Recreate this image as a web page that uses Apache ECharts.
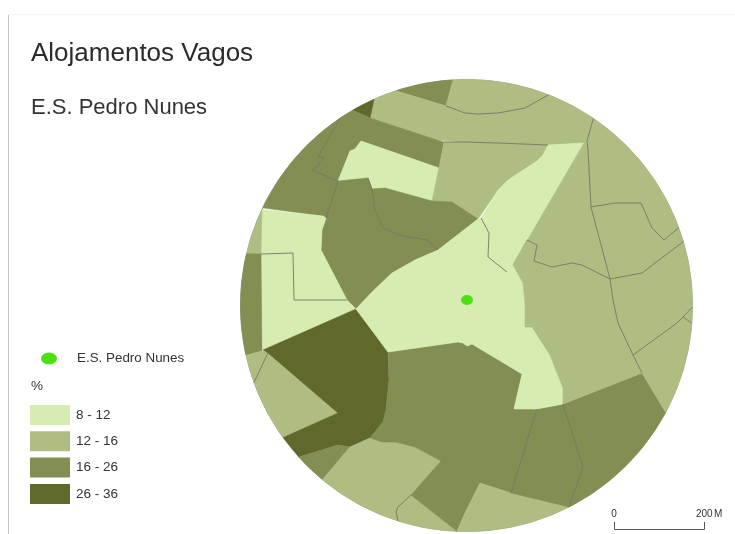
<!DOCTYPE html>
<html>
<head>
<meta charset="utf-8">
<title>Alojamentos Vagos</title>
<style>
  html, body { margin: 0; padding: 0; background: #fff; }
  #chart { width: 735px; height: 534px; }
</style>
</head>
<body>
<div id="chart"></div>
<script src="https://cdn.jsdelivr.net/npm/echarts@6/dist/echarts.min.js"></script>
<script>
// texts
const mainTitle = 'Alojamentos Vagos'
const subTitle = 'E.S. Pedro Nunes'
const schoolName = 'E.S. Pedro Nunes'

// classes of the legend
const classLabels = ['8 - 12', '12 - 16', '16 - 26', '26 - 36']
const classMins = [8, 12, 16, 26]
const classMaxs = [12, 16, 26, 36]
const classColors = ['#d7ecb0', '#afbc82', '#828e52', '#60682c']

// school location, in map units
const schoolPoint = [467, 300]

// study area, a circle. ARC = follow its edge up to the next vertex
const ARC = 'arc'
const areaCenter = [466.5, 305.5]
const areaRadius = 226

// percentage read per statistical section (only the class can be read)
const regionValues = [
  21, 14, 14, 31, 21, 21, 10, 14, 21, 21,
  10, 14, 10, 21, 14, 14, 31, 21, 14, 14,
  21, 14, 21, 21, 10, 10, 14, 14, 14, 14,
  14, 14, 14
]

// outlines of the sections, in map units, same order as regionValues
const regionRings = [
  [[396, 91], ARC, [453, 80], [446, 106]],
  [[453, 80], ARC, [548, 96], [525, 108], [498, 113], [478, 114], [465, 113], [446, 106]],
  [[374, 99], ARC, [396, 91], [446, 106], [465, 113], [478, 114], [498, 113], [525, 108], [548, 96], ARC, [593, 119], [587, 141], [584, 143], [548, 145], [498, 143], [465, 142], [437, 140], [370, 118]],
  [[353, 111], ARC, [374, 99], [370, 118]],
  [[340, 118], ARC, [353, 111], [370, 118], [437, 140], [444, 142], [439, 168], [361, 141], [355, 149], [350, 151], [338, 181], [312, 170], [320, 164], [318, 163], [324, 158], [318, 157]],
  [[263, 208], ARC, [340, 118], [318, 157], [324, 158], [318, 163], [320, 164], [312, 170], [338, 181], [326, 218], [323, 216]],
  [[361, 141], [439, 168], [432, 201], [385, 188], [372, 189], [368, 178], [338, 181], [350, 151], [355, 149]],
  [[444, 142], [465, 142], [498, 143], [548, 145], [543, 155], [537, 161], [508, 180], [498, 190], [478, 219], [475, 217], [452, 202], [432, 201], [439, 168]],
  [[372, 189], [385, 188], [432, 201], [452, 202], [475, 217], [478, 219], [438, 250], [428, 240], [402, 236], [383, 228], [375, 210]],
  [[338, 181], [368, 178], [372, 189], [375, 210], [383, 228], [402, 236], [428, 240], [438, 250], [415, 260], [392, 273], [372, 292], [356, 309], [347, 300], [321, 250], [322, 230], [326, 218]],
  [[261, 209], [323, 216], [326, 218], [322, 230], [321, 250], [347, 300], [294, 300], [293, 253], [261, 254]],
  [[261, 209], ARC, [248, 254], [261, 254]],
  [[261, 254], [293, 253], [294, 300], [347, 300], [356, 309], [263, 350], [262, 351]],
  [[248, 254], [261, 254], [262, 351], [247, 355], ARC],
  [[247, 355], [262, 351], [268, 353], [255, 382], ARC],
  [[268, 353], [338, 413], [284, 437], ARC, [255, 382]],
  [[263, 350], [356, 309], [388, 352], [389, 380], [386, 410], [383, 422], [370, 438], [350, 447], [338, 445], [299, 457], [284, 437], [338, 413], [268, 353]],
  [[299, 457], [338, 445], [350, 447], [323, 479], ARC],
  [[323, 479], [350, 447], [370, 438], [382, 442], [395, 442], [415, 447], [441, 461], [411, 495], [398, 507], [396, 512], [398, 521], ARC],
  [[411, 495], [457, 531], ARC, [398, 521], [396, 512], [398, 507]],
  [[388, 352], [458, 342], [463, 343], [467, 346], [472, 344], [522, 374], [514, 409], [537, 409], [511, 493], [480, 483], [465, 513], [457, 531], [411, 495], [441, 461], [415, 447], [395, 442], [382, 442], [370, 438], [383, 422], [386, 410], [389, 380]],
  [[480, 483], [511, 493], [568, 505], ARC, [457, 531], [465, 513]],
  [[537, 409], [563, 404], [583, 467], [568, 505], [511, 493]],
  [[563, 404], [642, 373], [665, 412], ARC, [568, 505], [583, 467]],
  [[438, 250], [478, 219], [481, 218], [489, 233], [488, 257], [507, 272], [513, 265], [523, 283], [525, 303], [525, 327], [532, 327], [550, 355], [563, 388], [563, 404], [537, 409], [514, 409], [522, 374], [472, 344], [467, 346], [463, 343], [458, 342], [388, 352], [356, 309], [372, 292], [392, 273], [415, 260]],
  [[481, 218], [498, 190], [508, 180], [537, 161], [543, 155], [548, 145], [584, 143], [513, 265], [507, 272], [488, 257], [489, 233]],
  [[587, 141], [588, 150], [591, 207], [610, 279], [582, 265], [572, 263], [552, 267], [534, 261], [537, 245], [527, 240], [513, 265], [584, 143]],
  [[513, 265], [527, 240], [537, 245], [534, 261], [552, 267], [572, 263], [582, 265], [610, 279], [613, 300], [618, 323], [633, 355], [642, 373], [563, 404], [563, 388], [550, 355], [532, 327], [525, 327], [525, 303], [523, 283]],
  [[593, 119], ARC, [678, 228], [664, 240], [652, 228], [641, 203], [615, 203], [591, 207], [588, 150], [587, 141]],
  [[591, 207], [615, 203], [641, 203], [652, 228], [664, 240], [678, 228], [682, 242], [642, 273], [610, 279]],
  [[682, 242], ARC, [692, 307], [683, 317], [677, 323], [633, 355], [618, 323], [613, 300], [610, 279], [642, 273]],
  [[692, 307], ARC, [691, 323], [683, 317]],
  [[633, 355], [677, 323], [683, 317], [691, 323], ARC, [665, 412], [642, 373]]
]

// boundaries between sections of the same class, they are the only ones with a visible line
const innerBoundaries = [
  [[340, 118], [318, 157], [324, 158], [318, 163], [320, 164], [312, 170], [338, 181], [326, 218]],
  [[368, 178], [372, 189], [375, 210], [383, 228], [402, 236], [428, 240], [438, 250]],
  [[537, 409], [511, 493]],
  [[563, 404], [583, 467], [568, 505]],
  [[446, 106], [465, 113], [478, 114], [498, 113], [525, 108], [548, 96]],
  [[444, 142], [465, 142], [498, 143], [548, 145]],
  [[593, 119], [587, 141], [588, 150], [591, 207], [610, 279], [613, 300], [618, 323], [633, 355], [642, 373]],
  [[591, 207], [615, 203], [641, 203], [652, 228], [664, 240], [678, 228]],
  [[682, 242], [642, 273], [610, 279]],
  [[527, 240], [537, 245], [534, 261], [552, 267], [572, 263], [582, 265], [610, 279]],
  [[633, 355], [677, 323], [683, 317], [691, 323]],
  [[683, 317], [692, 307]],
  [[268, 353], [255, 382]],
  [[411, 495], [398, 507], [396, 512], [398, 521]],
  [[261, 254], [293, 253], [294, 300], [347, 300]],
  [[481, 218], [489, 233], [488, 257], [507, 272]]
]

// snaps a vertex lying on the edge of the study area
const snapToEdge = (p) => {
  const dx = p[0] - areaCenter[0]
  const dy = p[1] - areaCenter[1]
  const d = Math.sqrt(dx * dx + dy * dy)
  if (Math.abs(d - areaRadius) > 4) return p
  return [areaCenter[0] + dx / d * areaRadius, areaCenter[1] + dy / d * areaRadius]
}

const edgeBetween = (a, b) => {
  const a0 = Math.atan2(a[1] - areaCenter[1], a[0] - areaCenter[0])
  const a1 = Math.atan2(b[1] - areaCenter[1], b[0] - areaCenter[0])
  let delta = a1 - a0
  while (delta > Math.PI) delta -= 2 * Math.PI
  while (delta < -Math.PI) delta += 2 * Math.PI
  const steps = Math.ceil(Math.abs(delta) / 0.02)
  const out = []
  for (let i = 1; i < steps; i++) {
    const t = a0 + delta * i / steps
    out.push([areaCenter[0] + Math.cos(t) * areaRadius, areaCenter[1] + Math.sin(t) * areaRadius])
  }
  return out
}

const buildRing = (ring) => {
  const out = []
  ring.forEach((v, i) => {
    if (v === ARC) {
      const next = ring[(i + 1) % ring.length]
      out.push(...edgeBetween(snapToEdge(ring[i - 1]), snapToEdge(next)))
    } else {
      out.push(snapToEdge(v))
    }
  })
  out.push(out[0])
  return out
}

const sectionName = (i) => 'S' + (i + 1)

const classColorOf = (v) => classColors[classMins.findIndex((m, i) => v >= m && v <= classMaxs[i])]

echarts.registerMap('seccoes', {
  type: 'FeatureCollection',
  features: regionRings.map((ring, i) => ({
    type: 'Feature',
    properties: {name: sectionName(i)},
    geometry: {type: 'Polygon', coordinates: [buildRing(ring)]}
  }))
})

const chart = echarts.init(document.getElementById('chart'))

chart.setOption({
  animation: false,
  backgroundColor: '#fff',
  title: [
    {text: mainTitle, left: 26, top: 36, textStyle: {fontFamily: 'Liberation Sans', fontSize: 26, fontWeight: 'normal', color: '#2b2b2b'}},
    {text: subTitle, left: 26, top: 92, textStyle: {fontFamily: 'Liberation Sans', fontSize: 22, fontWeight: 'normal', color: '#333'}},
    {text: '%', left: 26, top: 374, textStyle: {fontFamily: 'Liberation Sans', fontSize: 13.5, fontWeight: 'normal', color: '#333'}}
  ],
  legend: {
    left: 41,
    top: 352,
    padding: 0,
    data: [schoolName],
    icon: 'path://M0,6a8,6 0 1,0 16,0a8,6 0 1,0 -16,0',
    itemWidth: 16,
    itemHeight: 13,
    itemGap: 0,
    selectedMode: false,
    textStyle: {fontFamily: 'Liberation Sans', fontSize: 13.4, color: '#333', padding: [2, 0, 0, 15]}
  },
  visualMap: {
    type: 'piecewise',
    seriesIndex: 0,
    left: 30,
    top: 405,
    padding: 0,
    inverse: true,
    orient: 'vertical',
    itemWidth: 40,
    itemHeight: 20,
    itemGap: 6.3,
    itemSymbol: 'rect',
    textGap: 6,
    hoverLink: false,
    selectedMode: false,
    textStyle: {fontFamily: 'Liberation Sans', fontSize: 13.5, color: '#333'},
    pieces: classLabels.map((label, i) => ({
      min: classMins[i],
      max: classMaxs[i],
      label: label,
      color: classColors[i]
    }))
  },
  geo: {
    map: 'seccoes',
    projection: {project: (p) => p, unproject: (p) => p},
    boundingCoords: [[areaCenter[0] - areaRadius, areaCenter[1] - areaRadius], [areaCenter[0] + areaRadius, areaCenter[1] + areaRadius]],
    left: areaCenter[0] - areaRadius,
    top: areaCenter[1] - areaRadius,
    width: areaRadius * 2,
    height: areaRadius * 2,
    silent: true,
    itemStyle: {areaColor: '#afbc82', borderWidth: 0.6},
    // section outlines take the colour of their class so no seam shows
    regions: regionValues.map((v, i) => ({name: sectionName(i), itemStyle: {borderColor: classColorOf(v)}})),
    label: {show: false}
  },
  series: [
    {
      type: 'map',
      geoIndex: 0,
      silent: true,
      data: regionValues.map((v, i) => ({name: sectionName(i), value: v}))
    },
    {
      type: 'lines',
      coordinateSystem: 'geo',
      polyline: true,
      silent: true,
      lineStyle: {color: '#727963', width: 1, opacity: 0.9},
      data: innerBoundaries.map((line) => ({coords: line.map(snapToEdge)})),
      z: 3
    },
    {
      name: schoolName,
      type: 'scatter',
      coordinateSystem: 'geo',
      silent: true,
      symbol: 'circle',
      symbolSize: [12, 10],
      itemStyle: {color: '#4de010', opacity: 1},
      data: [schoolPoint],
      z: 5
    }
  ],
  graphic: [
    // edge of the study area
    {type: 'circle', silent: true, shape: {cx: areaCenter[0], cy: areaCenter[1], r: areaRadius}, style: {stroke: '#7d8372', fill: null, lineWidth: 0.8}},
    // page frame
    {type: 'line', silent: true, shape: {x1: 8.5, y1: 14, x2: 8.5, y2: 534}, style: {stroke: '#c4c4c4', lineWidth: 1}},
    {type: 'line', silent: true, shape: {x1: 8, y1: 14.5, x2: 735, y2: 14.5}, style: {stroke: '#f4f4f4', lineWidth: 1}},
    // scale bar
    {type: 'polyline', silent: true, shape: {points: [[614.5, 522], [614.5, 529.5], [704.5, 529.5], [704.5, 522]]}, style: {stroke: '#555', fill: null, lineWidth: 1}},
    {type: 'text', silent: true, style: {x: 614, y: 514, text: '0', align: 'center', verticalAlign: 'middle', fontFamily: 'Liberation Sans', fontSize: 10, fill: '#333'}},
    {type: 'text', silent: true, style: {x: 696, y: 514, text: '200', align: 'left', verticalAlign: 'middle', fontFamily: 'Liberation Sans', fontSize: 10, fill: '#333'}},
    {type: 'text', silent: true, style: {x: 714, y: 514, text: 'M', align: 'left', verticalAlign: 'middle', fontFamily: 'Liberation Sans', fontSize: 10, fill: '#333'}}
  ]
})
</script>
</body>
</html>
